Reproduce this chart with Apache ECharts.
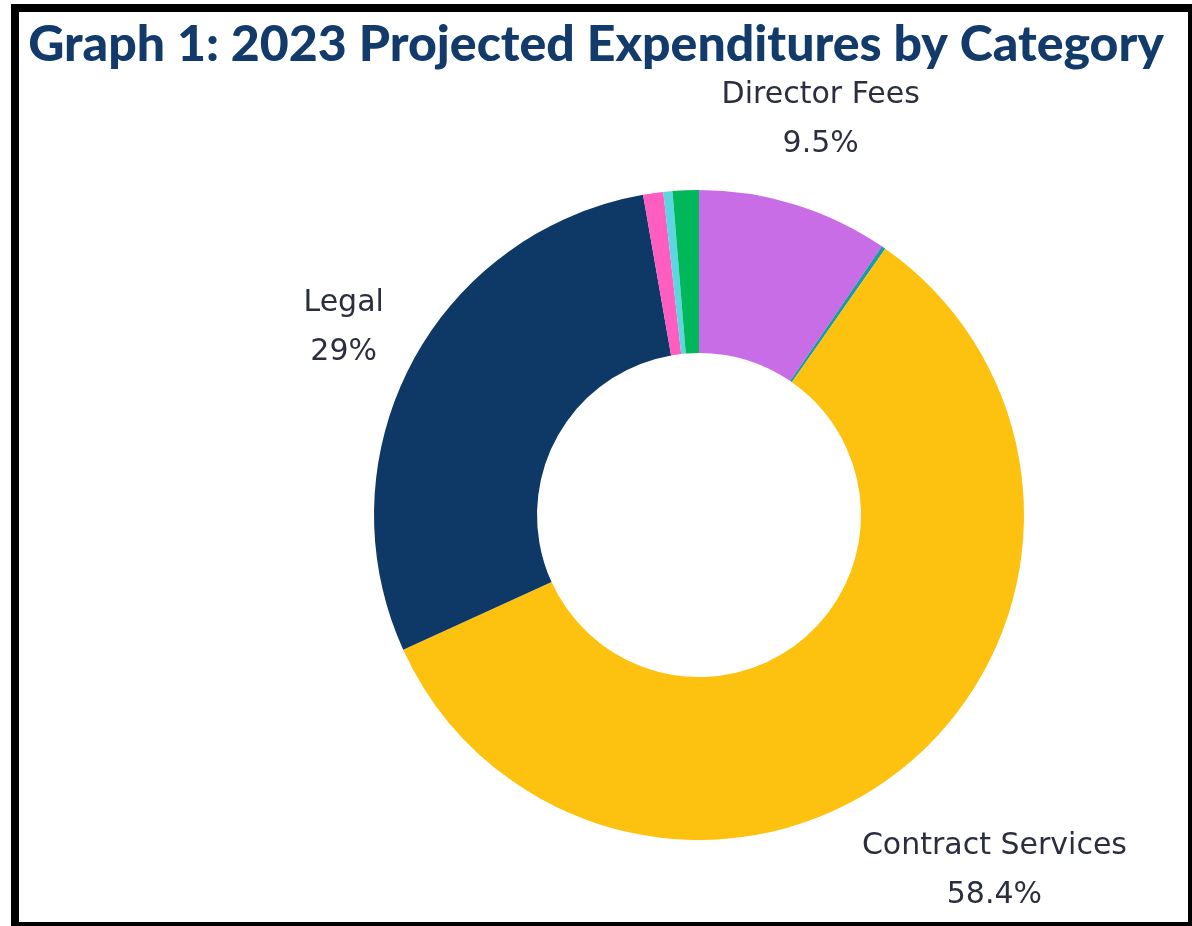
<!DOCTYPE html>
<html>
<head>
<meta charset="utf-8">
<script src="https://cdn.jsdelivr.net/npm/echarts@6/dist/echarts.min.js"></script>
<style>
  html, body { margin: 0; padding: 0; width: 1192px; height: 926px; overflow: hidden; background: #fff; }
  #chart { position: absolute; left: 0; top: 0; width: 1192px; height: 926px; }
  #frame { position: absolute; left: 11px; top: 4px; width: 1185px; height: 926px; box-sizing: border-box; border: 8px solid #000; pointer-events: none; }
</style>
</head>
<body>
<div id="chart"></div>
<div id="frame"></div>
<script>
const titleText = 'Graph 1: 2023 Projected Expenditures by Category';
const categories = ['Director Fees', 'Other A', 'Contract Services', 'Legal', 'Other B', 'Other C', 'Other D'];
const values = [9.5, 0.2, 58.4, 29, 1.0, 0.45, 1.3];
const colors = ['#C86DE6', '#1A9BA5', '#FDC20F', '#0E3966', '#FF5DC0', '#5CD6E1', '#00B85A'];
const labelled = [true, false, true, true, false, false, false];

const chart = echarts.init(document.getElementById('chart'), null, { renderer: 'canvas' });
const GAP = 24;

chart.setOption({
  animation: false,
  title: {
    text: titleText,
    left: 'center',
    top: 15,
    textStyle: { fontFamily: 'Lato', fontWeight: 900, fontSize: 50, color: '#123B6B' }
  },
  series: [{
    type: 'pie',
    center: [699, 515],
    radius: [162, 325],
    startAngle: 90,
    clockwise: true,
    avoidLabelOverlap: false,
    minShowLabelAngle: 0,
    emphasis: { disabled: true },
    itemStyle: { borderWidth: 0 },
    label: {
      show: true,
      position: 'outside',
      formatter: '{b}\n{c}%',
      fontFamily: 'DejaVu Sans',
      fontSize: 30,
      lineHeight: 49,
      color: '#2B2E3F'
    },
    labelLine: { show: false, length: 10, length2: 0 },
    labelLayout: function (p) {
      const data = chart.getModel().getSeriesByIndex(0).getData();
      const lay = data.getItemLayout(p.dataIndex);
      const mid = (lay.startAngle + lay.endAngle) / 2;
      const dx = Math.cos(mid), dy = Math.sin(mid);
      const w = p.labelRect.width, h = p.labelRect.height * 0.75;
      const d = lay.r + GAP + Math.abs(dx) * w / 2 + Math.abs(dy) * h / 2;
      return { x: lay.cx + dx * d, y: lay.cy + dy * d, align: 'center', verticalAlign: 'middle' };
    },
    data: categories.map((name, i) => ({
      name: name,
      value: values[i],
      itemStyle: { color: colors[i] },
      label: { show: labelled[i] }
    }))
  }]
});
</script>
</body>
</html>
